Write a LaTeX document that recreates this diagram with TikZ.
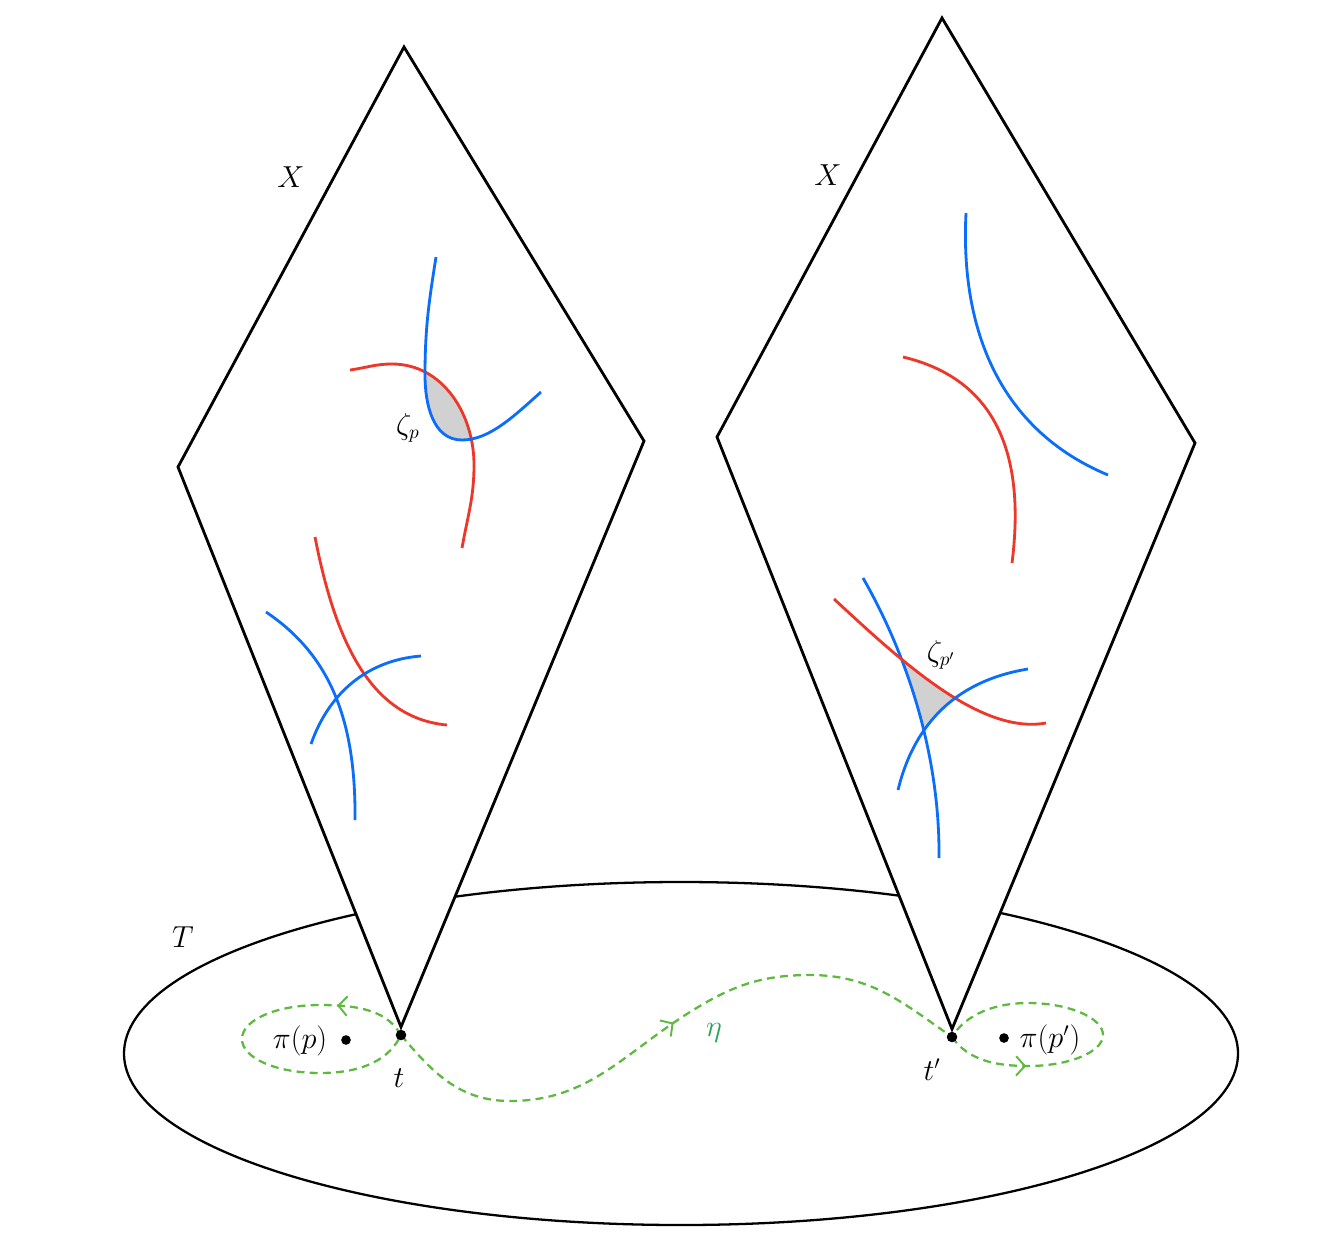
\documentclass[tikz,border=0pt]{standalone}
\usetikzlibrary{decorations.markings,arrows.meta}

\definecolor{curveblue}{RGB}{10,110,250}
\definecolor{curvered}{RGB}{238,55,40}
\definecolor{loopgreen}{RGB}{95,185,65}
\definecolor{etagreen}{RGB}{40,165,90}

\tikzset{
    fibre/.style={draw=black,fill=white,line width=1.6pt,line join=miter},
    bluecurve/.style={curveblue,line width=1.6pt},
    redcurve/.style={curvered,line width=1.6pt},
    greenpath/.style={loopgreen,line width=1.3pt,dash pattern=on 4.5pt off 3pt},
    arrowat/.style={postaction={decorate,decoration={markings,mark=at position #1 with {\arrow[solid,line width=1.1pt]{Straight Barb[length=5pt,width=11pt]}}}}},
    dot/.style={circle,fill=black,inner sep=0pt,minimum size=6pt},
    lbl/.style={font=\fontsize{16}{19}\selectfont}
}

\begin{document}
\begin{tikzpicture}[x=0.02cm,y=-0.02cm]
    \useasboundingbox (0,0) rectangle (1344,1254);

    % base T
    \draw[line width=1.3pt] (681,1053.5) ellipse (557 and 171.5);
    \node[lbl] (T) at (183,937) {$T$};

    % the two fibres
    \draw[fibre] (404,47) -- (644,441) -- (401,1027) -- (178,467) -- cycle;
    \draw[fibre] (942,18) -- (1195,443) -- (952,1029) -- (717,437) -- cycle;
    \node[lbl] (X1) at (291,177) {$X$};
    \node[lbl] (X2) at (828,175) {$X$};

    % left fibre: shaded piece
    \begin{scope}
        \clip (436,257) to[out=-99,in=90] (425,375) to[out=-90,in=180] (462,440) .. controls (490,440) and (515,415) .. (541,392) -- (541,250) -- (436,250) -- cycle;
        \fill[black!18] (350,370) to[out=8,in=180] (392,364) to[out=0,in=90] (474,465) to[out=-90,in=80] (462,548) -- (350,548) -- cycle;
    \end{scope}
    \draw[redcurve] (350,370) to[out=8,in=180] (392,364) to[out=0,in=90] (474,465) to[out=-90,in=80] (462,548);
    \draw[bluecurve] (436,257) to[out=-99,in=90] (425,375) to[out=-90,in=180] (462,440) .. controls (490,440) and (515,415) .. (541,392);
    \node[lbl] (zp) at (408,428) {$\zeta_p$};

    \draw[redcurve] (315,537) .. controls (335,640) and (370,718) .. (447,725);
    \draw[bluecurve] (266,612) .. controls (330,655) and (356,720) .. (355,820);
    \draw[bluecurve] (311,744) .. controls (330,690) and (370,660) .. (421,656);

    % right fibre
    \draw[bluecurve] (966,213) .. controls (960,330) and (1000,430) .. (1108,475);
    \draw[redcurve] (903,357) .. controls (1000,380) and (1025,460) .. (1012,563);

    \begin{scope}
        \clip (863,578) .. controls (910,660) and (940,760) .. (939,858) -- (1100,858) -- (1100,578) -- cycle;
        \clip (834,599) .. controls (900,660) and (980,735) .. (1046,723) -- (1046,860) -- (834,860) -- cycle;
        \fill[black!18] (898,790) .. controls (915,720) and (960,680) .. (1028,669) -- (1028,560) -- (850,560) -- (850,790) -- cycle;
    \end{scope}
    \draw[bluecurve] (863,578) .. controls (910,660) and (940,760) .. (939,858);
    \draw[redcurve] (834,599) .. controls (900,660) and (980,735) .. (1046,723);
    \draw[bluecurve] (898,790) .. controls (915,720) and (960,680) .. (1028,669);
    \node[lbl] (zpp) at (941,655) {$\zeta_{p'}$};

    % points on T
    \coordinate (t) at (401,1035);
    \coordinate (tp) at (952,1037);

    % loops and the path eta
    \draw[greenpath,arrowat=0.2] (t) .. controls (388,1013) and (365,1005) .. (320,1005) .. controls (276,1005) and (242,1020) .. (242,1039) .. controls (242,1058) and (276,1073) .. (320,1073) .. controls (365,1073) and (390,1058) .. (t);
    \draw[greenpath,arrowat=0.51] (t) to[out=-50,in=180] (510,1101) to[out=0,in=-148] (690,1012) to[out=32,in=180] (810,975) to[out=0,in=145] (tp);
    \draw[greenpath,arrowat=0.24] (tp) .. controls (968,1060) and (995,1066) .. (1028,1066) .. controls (1069,1066) and (1103,1052) .. (1103,1035) .. controls (1103,1018) and (1069,1003) .. (1028,1003) .. controls (995,1003) and (966,1014) .. (tp);
    \node[lbl,text=etagreen] (eta) at (714,1033) {$\eta$};

    \node[dot] (tdot) at (t) {};
    \node[dot] (tpdot) at (tp) {};
    \node[dot,minimum size=5.5pt] (p) at (346,1040) {};
    \node[dot,minimum size=5.5pt] (pp) at (1004,1038) {};
    \node[lbl] (pilbl) at (300,1041) {$\pi(p)$};
    \node[lbl] (pplbl) at (1050,1040) {$\pi(p')$};
    \node[lbl] (tlbl) at (399,1078) {$t$};
    \node[lbl] (tplbl) at (932,1070) {$t'$};
\end{tikzpicture}
\end{document}
